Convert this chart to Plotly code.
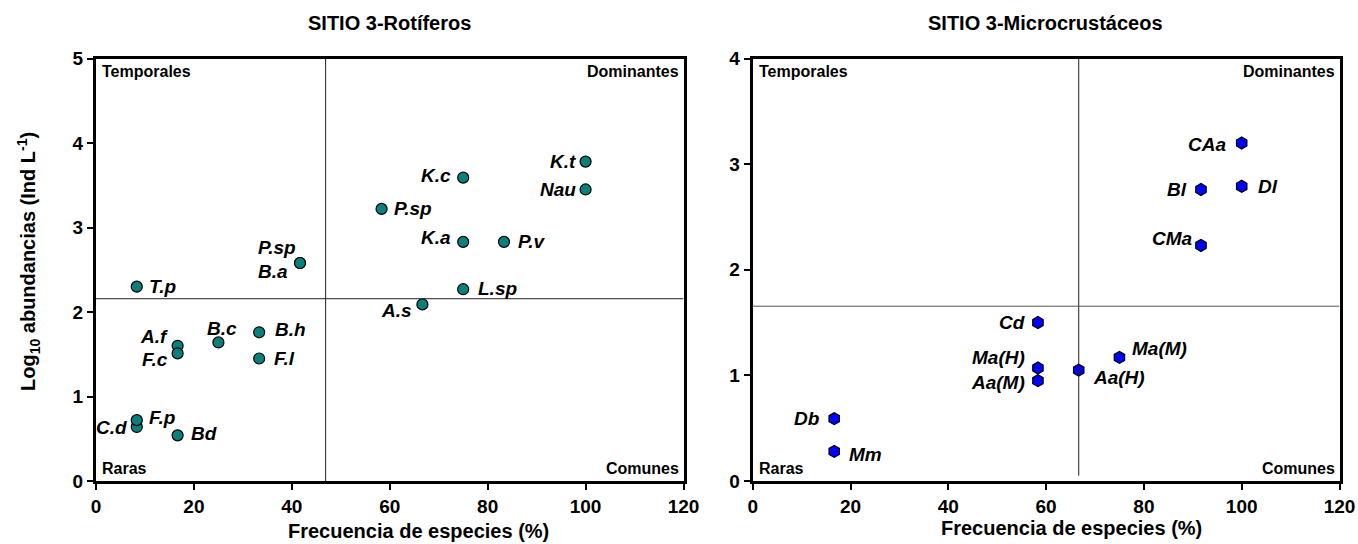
import plotly.graph_objects as go

# ---- Rotíferos (sitio 3) ----
rot_names = ["T.p", "P.sp", "B.a", "A.f", "F.c", "B.c", "B.h", "F.l", "C.d", "F.p",
             "Bd", "A.s", "P.sp", "K.c", "K.a", "P.v", "L.sp", "K.t", "Nau"]
rot_freq = [8.33, 41.67, 41.67, 16.67, 16.67, 25.0, 33.33, 33.33, 8.33, 8.33,
            16.67, 66.67, 58.33, 75.0, 75.0, 83.33, 75.0, 100.0, 100.0]
rot_abund = [2.30, 2.58, 2.58, 1.60, 1.51, 1.64, 1.76, 1.45, 0.64, 0.72,
             0.54, 2.09, 3.22, 3.59, 2.83, 2.83, 2.27, 3.78, 3.45]
rot_cut_freq = 46.9
rot_cut_abund = 2.157

# ---- Microcrustáceos (sitio 3) ----
cru_names = ["CAa", "Bl", "Dl", "CMa", "Cd", "Ma(H)", "Aa(M)", "Aa(H)", "Ma(M)", "Db", "Mm"]
cru_freq = [100.0, 91.67, 100.0, 91.67, 58.33, 58.33, 58.33, 66.67, 75.0, 16.67, 16.67]
cru_abund = [3.20, 2.76, 2.79, 2.23, 1.50, 1.07, 0.95, 1.05, 1.17, 0.59, 0.28]
cru_cut_freq = 66.67
cru_cut_abund = 1.655

x_ticks = [0, 20, 40, 60, 80, 100, 120]
quadrants = ["Temporales", "Dominantes", "Raras", "Comunes"]

# label placement: (anchor, x offset px, y offset px)
rot_lab = [("left", 10, 0), ("right", -2, 15), ("right", -10, -9), ("right", -8, 9),
           ("right", -8, -6), ("center", 4, 14), ("left", 14, 3), ("left", 13, 0),
           ("right", -8, -1), ("left", 10, 3), ("left", 11, 2), ("right", -8, -6),
           ("left", 10, 0), ("right", -10, 2), ("right", -10, 4), ("left", 12, 0),
           ("left", 13, 1), ("right", -8, 0), ("right", -8, 0)]
cru_lab = [("right", -14, -1), ("right", -12, 0), ("left", 14, 0), ("right", -6, 7),
           ("right", -11, 0), ("right", -11, 10), ("right", -11, -2), ("left", 12, -7),
           ("left", 11, 9), ("right", -12, 0), ("left", 13, -3)]

FONT = "Liberation Sans, Arial, sans-serif"
W, H = 1358, 544

fig = go.Figure()
fig.add_trace(go.Scatter(
    x=rot_freq, y=rot_abund, mode="markers", xaxis="x", yaxis="y",
    marker=dict(symbol="circle", size=11, color="#0a807c",
                line=dict(color="black", width=1.2)),
    showlegend=False, hoverinfo="skip"))
fig.add_trace(go.Scatter(
    x=cru_freq, y=cru_abund, mode="markers", xaxis="x2", yaxis="y2",
    marker=dict(symbol="hexagon", size=12, color="#0000ff",
                line=dict(color="black", width=1.2)),
    showlegend=False, hoverinfo="skip"))

annotations = []
lab_font = dict(family=FONT, size=19, color="black", weight="bold", style="italic")
for names, xs, ys, labs, xr, yr in [
        (rot_names, rot_freq, rot_abund, rot_lab, "x", "y"),
        (cru_names, cru_freq, cru_abund, cru_lab, "x2", "y2")]:
    for n, xv, yv, (anc, dx, dy) in zip(names, xs, ys, labs):
        annotations.append(dict(
            x=xv, y=yv, xref=xr, yref=yr, text=n, showarrow=False,
            xanchor=anc, yanchor="middle", xshift=dx, yshift=dy, font=lab_font))

# quadrant names in each panel corner
q_font = dict(family=FONT, size=16, color="black", weight="bold")
corners = [(0, 1, "left", "top", 4, -2), (1, 1, "right", "top", -3, -2),
           (0, 0, "left", "bottom", 4, 2), (1, 0, "right", "bottom", -3, 2)]
for xr, yr in [("x", "y"), ("x2", "y2")]:
    for q, (cx, cy, xa, ya, dx, dy) in zip(quadrants, corners):
        annotations.append(dict(
            x=cx, y=cy, xref=xr + " domain", yref=yr + " domain", text=q,
            showarrow=False, xanchor=xa, yanchor=ya, xshift=dx, yshift=dy,
            font=q_font))

t_font = dict(family=FONT, size=20, color="black", weight="bold")
annotations += [
    dict(x=390 / W, y=1 - 23 / H, xref="paper", yref="paper", text="SITIO 3-Rotíferos",
         showarrow=False, xanchor="center", yanchor="middle", font=t_font),
    dict(x=1045 / W, y=1 - 23 / H, xref="paper", yref="paper",
         text="SITIO 3-Microcrustáceos", showarrow=False, xanchor="center",
         yanchor="middle", font=t_font),
    dict(x=418 / W, y=1 - 531 / H, xref="paper", yref="paper",
         text="Frecuencia de especies (%)", showarrow=False, xanchor="center",
         yanchor="middle", font=t_font),
    dict(x=1071 / W, y=1 - 528 / H, xref="paper", yref="paper",
         text="Frecuencia de especies (%)", showarrow=False, xanchor="center",
         yanchor="middle", font=t_font),
    dict(x=28 / W, y=1 - 262 / H, xref="paper", yref="paper",
         text="Log<sub>10</sub> abundancias (Ind L<sup>-1</sup>)", textangle=-90,
         showarrow=False, xanchor="center", yanchor="middle", font=t_font),
]

# quadrant divider lines
shapes = [
    dict(type="line", xref="x", yref="y", x0=rot_cut_freq, x1=rot_cut_freq, y0=0, y1=5,
         line=dict(color="#222", width=1)),
    dict(type="line", xref="x", yref="y", x0=0, x1=120, y0=rot_cut_abund, y1=rot_cut_abund,
         line=dict(color="#222", width=1)),
    dict(type="line", xref="x2", yref="y2", x0=cru_cut_freq, x1=cru_cut_freq, y0=0.05, y1=4.05,
         line=dict(color="#222", width=1)),
    dict(type="line", xref="x2", yref="y2", x0=0, x1=120, y0=cru_cut_abund, y1=cru_cut_abund,
         line=dict(color="#555", width=1)),
]

tick_font = dict(family=FONT, size=19, color="black", weight="bold")
ax_common = dict(showgrid=False, zeroline=False, showline=True, linecolor="black",
                 linewidth=3, mirror=True, ticks="outside", ticklen=6, tickwidth=2,
                 tickcolor="black", tickfont=tick_font, fixedrange=True,
                 automargin=False)
y_dom = [1 - 481 / H, 1 - 58.5 / H]

fig.update_layout(
    width=W, height=H, margin=dict(l=0, r=0, t=0, b=0, autoexpand=False),
    paper_bgcolor="white", plot_bgcolor="white",
    xaxis=dict(domain=[96 / W, 683.5 / W], range=[0, 120], tickvals=x_ticks,
               anchor="y", **ax_common),
    yaxis=dict(domain=y_dom, range=[0, 5], dtick=1, anchor="x", **ax_common),
    xaxis2=dict(domain=[752.7 / W, 1339.5 / W], range=[0, 120], tickvals=x_ticks,
                anchor="y2", **ax_common),
    yaxis2=dict(domain=y_dom, range=[0, 4], dtick=1, anchor="x2", **ax_common),
    annotations=annotations, shapes=shapes, showlegend=False,
)

fig.write_html("out.html")
